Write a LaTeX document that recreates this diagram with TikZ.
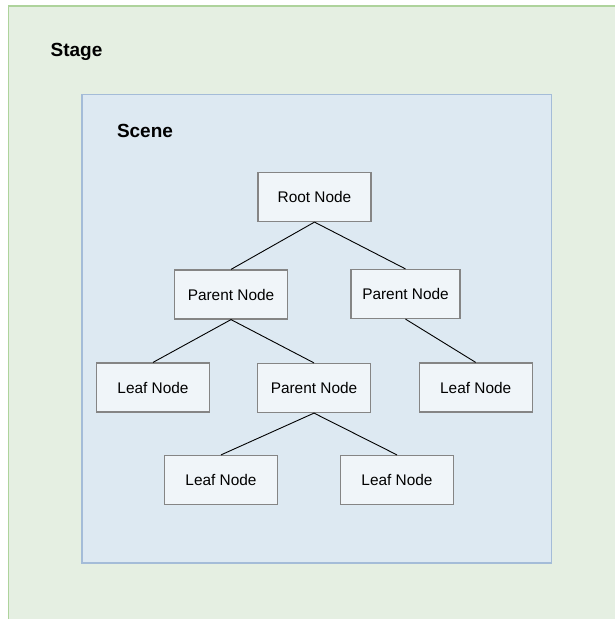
\documentclass[tikz,border=0pt]{standalone}
\usepackage{fontspec}
\setmainfont{Liberation Sans}
\definecolor{stagefill}{HTML}{E5EFE2}
\definecolor{stageline}{HTML}{AED39C}
\definecolor{scenefill}{HTML}{DDE9F2}
\definecolor{sceneline}{HTML}{A4BCD8}
\definecolor{nodefill}{HTML}{F0F5F9}
\definecolor{nodeline}{HTML}{858585}
\tikzset{
  treenode/.style={draw=nodeline, fill=nodefill, line width=1.2pt,
    minimum width=113pt, minimum height=49pt, inner sep=0pt,
    font=\fontsize{15.4pt}{18pt}\selectfont},
  titletext/.style={font=\fontsize{19pt}{22pt}\selectfont\bfseries, anchor=center, inner sep=0pt},
  treeedge/.style={draw=black, line width=0.9pt}
}
\begin{document}
\begin{tikzpicture}[x=1pt, y=-1pt]
  \useasboundingbox (0,0) rectangle (615,619);
  \clip (0,0) rectangle (615,619);
  % stage and scene containers
  \draw[fill=stagefill, draw=stageline, line width=1.4pt] (8.5,6) rectangle (630,640);
  \node[titletext] (stagelabel) at (76.5,52) {Stage};
  \draw[fill=scenefill, draw=sceneline, line width=1.1pt] (82,94.5) rectangle (551.5,563);
  \node[titletext] (scenelabel) at (145,130.5) {Scene};
  % scene graph nodes
  \node[treenode] (root) at (314.5,197) {Root Node};
  \node[treenode] (p1) at (231,294.5) {Parent Node};
  \node[treenode, minimum width=109pt] (p2) at (405.5,294) {Parent Node};
  \node[treenode] (l1) at (153,387.5) {Leaf Node};
  \node[treenode] (p3) at (314,388) {Parent Node};
  \node[treenode] (l2) at (475.7,387.5) {Leaf Node};
  \node[treenode] (l3) at (221,480) {Leaf Node};
  \node[treenode] (l4) at (397,480) {Leaf Node};
  % connectors
  \draw[treeedge] (root.south) -- (p1.north);
  \draw[treeedge] (root.south) -- (p2.north);
  \draw[treeedge] (p1.south) -- (l1.north);
  \draw[treeedge] (p1.south) -- (p3.north);
  \draw[treeedge] (p2.south) -- (l2.north);
  \draw[treeedge] (p3.south) -- (l3.north);
  \draw[treeedge] (p3.south) -- (l4.north);
\end{tikzpicture}
\end{document}
